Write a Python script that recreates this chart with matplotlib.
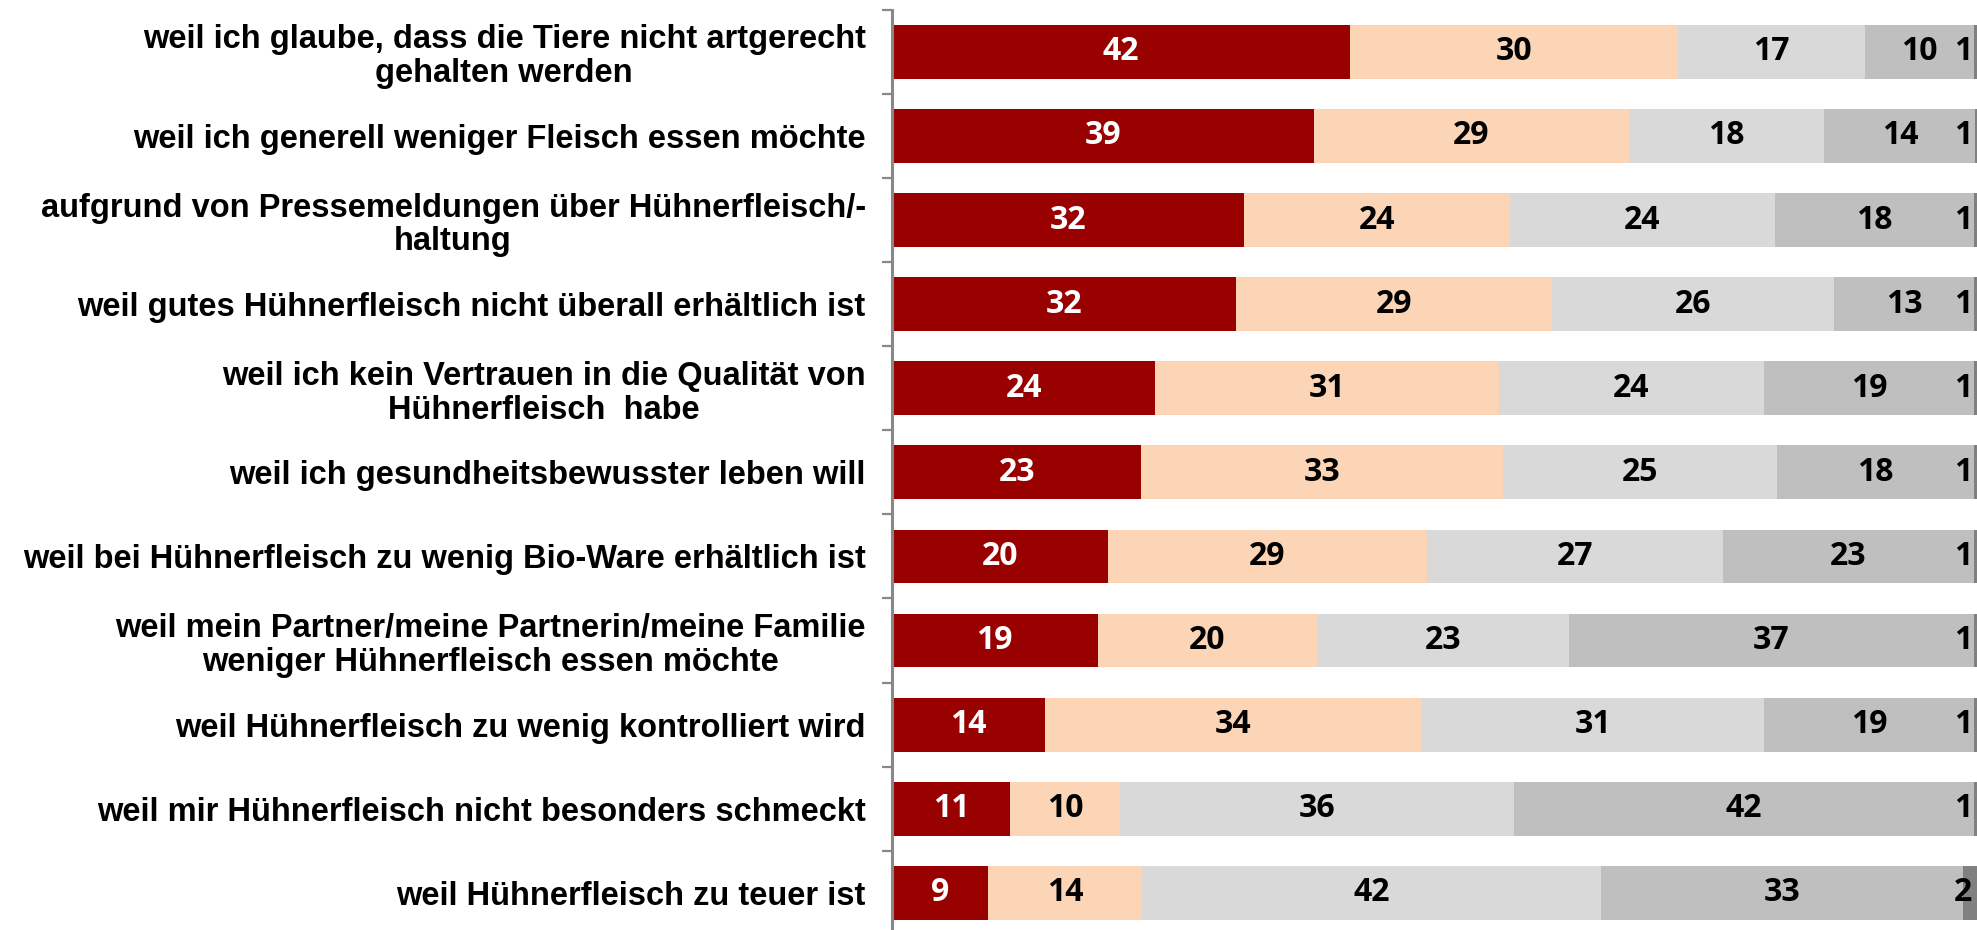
import matplotlib
matplotlib.use("Agg")
import matplotlib.pyplot as plt
import matplotlib.transforms as mtrans
import numpy as np

categories = [
    "weil ich glaube, dass die Tiere nicht artgerecht\ngehalten werden",
    "weil ich generell weniger Fleisch essen möchte",
    "aufgrund von Pressemeldungen über Hühnerfleisch/-\nhaltung",
    "weil gutes Hühnerfleisch nicht überall erhältlich ist",
    "weil ich kein Vertrauen in die Qualität von\nHühnerfleisch  habe",
    "weil ich gesundheitsbewusster leben will",
    "weil bei Hühnerfleisch zu wenig Bio-Ware erhältlich ist",
    "weil mein Partner/meine Partnerin/meine Familie\nweniger Hühnerfleisch essen möchte",
    "weil Hühnerfleisch zu wenig kontrolliert wird",
    "weil mir Hühnerfleisch nicht besonders schmeckt",
    "weil Hühnerfleisch zu teuer ist",
]
s1 = [41.9, 38.6, 32.2, 31.5, 24.1, 22.8, 19.8, 18.8, 14.0, 10.8, 8.8]
s2 = [30.0, 28.8, 24.3, 28.9, 31.4, 33.1, 29.1, 20.1, 34.4, 10.1, 14.1]
s3 = [17.1, 17.9, 24.3, 25.8, 24.3, 25.1, 27.1, 23.0, 31.4, 36.0, 42.0]
s4 = [10.0, 13.8, 18.2, 12.8, 19.2, 18.0, 23.0, 37.1, 19.2, 42.1, 33.1]
s5 = [1, 1, 1, 1, 1, 1, 1, 1, 1, 1, 2]

series = [s1, s2, s3, s4, s5]
colors = ["#990000", "#FBD5B5", "#D9D9D9", "#BFBFBF", "#808080"]
text_colors = ["white", "black", "black", "black", "black"]

fig = plt.figure(figsize=(19.77, 9.3), dpi=100)
ax = fig.add_axes([0.4512, -0.0052, 0.5529, 0.9946])

y = np.arange(len(categories))
left = np.zeros(len(categories))
val_font = dict(family=["Open Sans", "DejaVu Sans"], weight="bold", size=23)
edge_tr = mtrans.blended_transform_factory(fig.transFigure, ax.transData)
for k, (vals, col, tc) in enumerate(zip(series, colors, text_colors)):
    vals = np.array(vals, dtype=float)
    ax.barh(y, vals, left=left, height=0.64, color=col, edgecolor="none", zorder=2)
    for i, v in enumerate(vals):
        lab = f"{int(round(v))}"
        if k == len(series) - 1:
            ax.text(0.9975, y[i], lab, transform=edge_tr, ha="right",
                    va="center", color=tc, zorder=3, **val_font)
        else:
            ax.text(left[i] + v / 2, y[i], lab, ha="center", va="center",
                    color=tc, zorder=3, **val_font)
    left += vals

ax.set_xlim(0, 100)
ax.set_ylim(len(categories) - 0.5, -0.5)

for s in ["top", "right", "bottom"]:
    ax.spines[s].set_visible(False)
ax.spines["left"].set_color("#888888")
ax.spines["left"].set_linewidth(2.2)
ax.spines["left"].set_zorder(4)
ax.set_xticks([])

ax.set_yticks(np.arange(-0.5, len(categories) + 0.5, 1.0))
ax.set_yticklabels([])
ax.tick_params(axis="y", which="major", length=7.5, width=1.6, color="#888888")
ax.set_yticks(y, minor=True)
ax.set_yticklabels(categories, minor=True, fontsize=23.5, fontweight="bold",
                   family=["Liberation Sans", "DejaVu Sans"], linespacing=1.12)
ax.tick_params(axis="y", which="minor", length=0, pad=19)
for lab in ax.get_yticklabels(minor=True):
    lab.set_multialignment("center")

fig.savefig("out.png", dpi=100)
